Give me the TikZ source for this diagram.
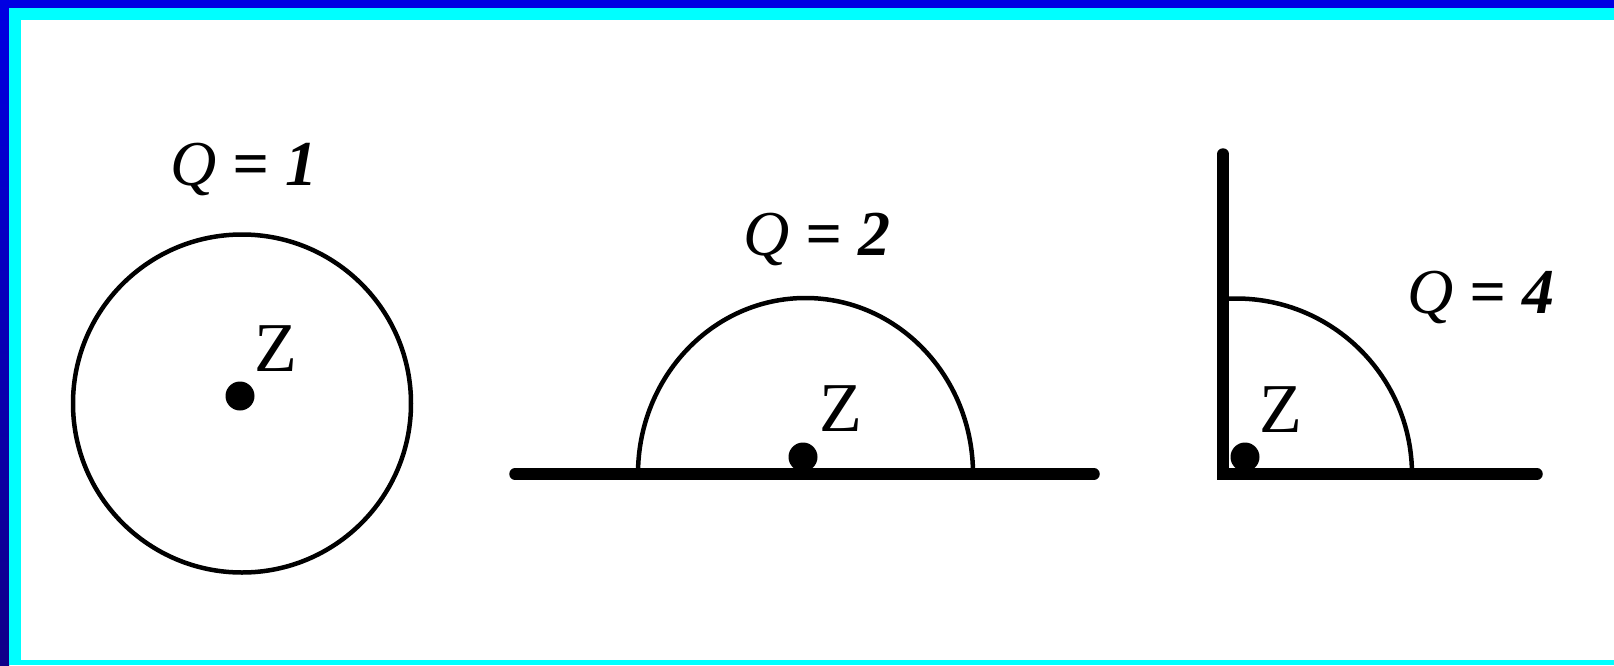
\documentclass[tikz,border=0pt]{standalone}
\usepackage{fontspec}
\setmainfont{Liberation Serif}
\definecolor{frameblue}{RGB}{0,0,226}
\definecolor{framenavy}{RGB}{16,0,136}
\definecolor{framecyan}{RGB}{0,255,255}
\tikzset{
  thinline/.style={line width=2.25pt},
  thickline/.style={line width=5.75pt, line cap=round, line join=miter},
  zdot/.style={circle, fill=black, inner sep=0pt, minimum size=14.5pt},
  zlabel/.style={inner sep=0pt, font=\fontsize{35}{37}\selectfont},
  qlabel/.style={inner sep=0pt, anchor=base, font=\fontsize{32}{34}\selectfont},
}
\newcommand{\qtext}[1]{\textit{Q}{\bfseries\itshape\ = #1}}
\begin{document}
\begin{tikzpicture}[x=0.5pt,y=-0.5pt]
\useasboundingbox (0,0) rectangle (1614,665);
\fill[white] (0,0) rectangle (1614,665);
% frame
\fill[frameblue] (0,0) rectangle (1614,8);
\shade[top color=frameblue, bottom color=framenavy] (0,0) rectangle (9,665);
\fill[framecyan] (9,8) rectangle (1614,20);
\fill[framecyan] (9,8) rectangle (21,665);
\fill[framecyan] (9,660) rectangle (1614,665);

% ---- Q = 1 : full circle
\coordinate (c1) at (242,403.5);
\draw[thinline] (c1) circle[radius=169];
\node[zdot] (z1) at (240,396) {};
\node[zlabel] (zl1) at (276,349) {Z};
\node[qlabel] (q1) at (244,185) {\qtext{1}};

% ---- Q = 2 : half plane
\coordinate (b2l) at (515,474);
\coordinate (b2r) at (1094,474);
\coordinate (a2s) at (638,474);
\draw[thinline] (a2s) arc[start angle=180, end angle=360, x radius=167.5, y radius=176];
\draw[thickline] (b2l) -- (b2r);
\node[zdot] (z2) at (803,457) {};
\node[zlabel] (zl2) at (841,409) {Z};
\node[qlabel] (q2) at (817,255) {\qtext{2}};

% ---- Q = 4 : quarter plane
\coordinate (w4t) at (1223,154);
\coordinate (w4c) at (1223,474);
\coordinate (w4r) at (1537,474);
\coordinate (a4w) at (1223,298.5);
\coordinate (a4s) at (1236,298.5);
\draw[thinline] (a4w) -- (a4s) arc[start angle=270, end angle=360, radius=176];
\draw[thickline] (w4t) -- (w4c) -- (w4r);
\node[zdot] (z4) at (1245,457) {};
\node[zlabel] (zl4) at (1281,409.5) {Z};
\node[qlabel] (q4) at (1481,313) {\qtext{4}};
\end{tikzpicture}
\end{document}
